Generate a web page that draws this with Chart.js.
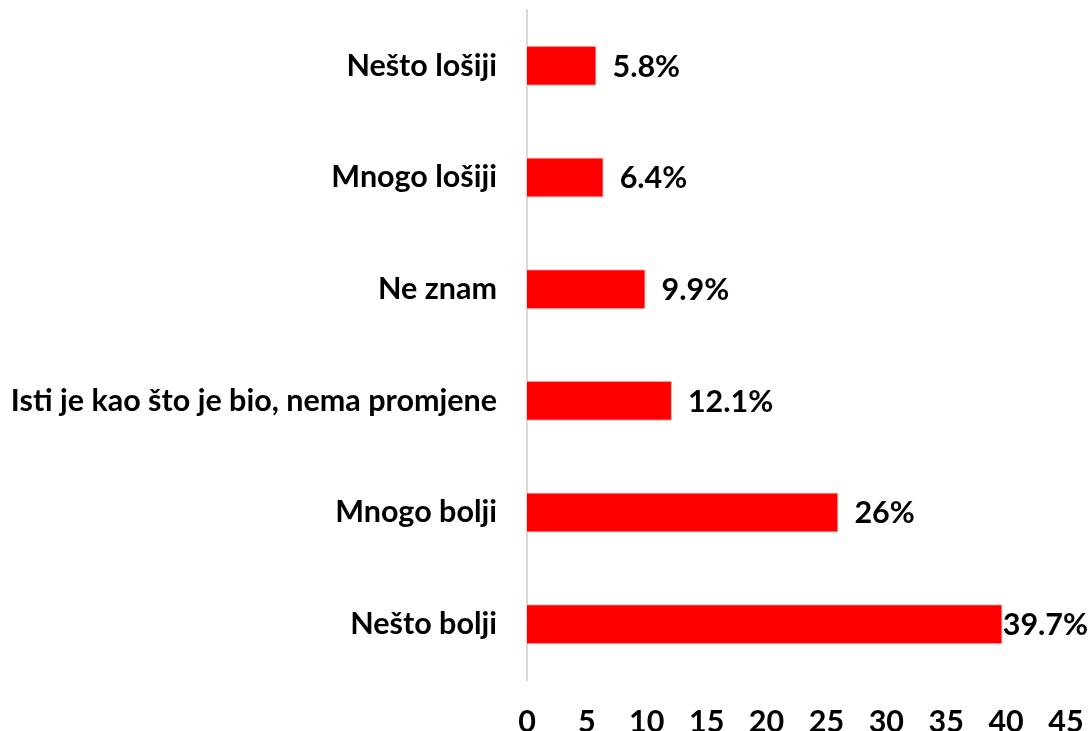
<!DOCTYPE html>
<html>
<head>
<meta charset="utf-8">
<script src="https://cdn.jsdelivr.net/npm/chart.js@4"></script>
<style>
  body { margin: 0; background: #fff; }
</style>
</head>
<body>
<canvas id="myBarChart" width="1089" height="731"></canvas>
<script>
const categories = ['Nešto lošiji', 'Mnogo lošiji', 'Ne znam', 'Isti je kao što je bio, nema promjene', 'Mnogo bolji', 'Nešto bolji'];
const values = [5.8, 6.4, 9.9, 12.1, 26, 39.7];
const valueLabels = ['5.8%', '6.4%', '9.9%', '12.1%', '26%', '39.7%'];
const xTicks = [0, 5, 10, 15, 20, 25, 30, 35, 40, 45];

const fontFamily = 'Lato, "Open Sans", sans-serif';
const fontSize = 30.5;

// simple inline value labels (no datalabels plugin available)
const valueLabelPlugin = {
    id: 'valueLabels',
    afterDatasetsDraw(chart) {
        const ctx = chart.ctx;
        const meta = chart.getDatasetMeta(0);
        ctx.save();
        ctx.font = 'bold ' + fontSize + 'px ' + fontFamily;
        ctx.fillStyle = '#000';
        ctx.textAlign = 'left';
        ctx.textBaseline = 'middle';
        meta.data.forEach(function(bar, i) {
            const text = valueLabels[i];
            // keep the label inside the canvas, like the original does
            const x = Math.min(bar.x + 16, chart.width - ctx.measureText(text).width - 1);
            ctx.fillText(text, x, bar.y + 1);
        });
        ctx.restore();
    }
};

const ctx = document.getElementById('myBarChart');

new Chart(ctx, {
    type: 'bar',
    data: {
        labels: categories,
        datasets: [{
            data: values,
            backgroundColor: '#ff0000',
            borderColor: 'rgba(255,160,160,0.8)',
            borderWidth: 1,
            barPercentage: 0.6,
            categoryPercentage: 0.597
        }]
    },
    options: {
        indexAxis: 'y',
        responsive: false,
        animation: false,
        layout: {
            padding: { top: 10, right: 23, left: 0, bottom: 0 }
        },
        plugins: {
            legend: { display: false },
            tooltip: { enabled: false }
        },
        scales: {
            x: {
                min: 0,
                max: 45,
                afterBuildTicks: function(axis) {
                    axis.ticks = xTicks.map(function(v) { return { value: v }; });
                },
                afterFit: function(scale) {
                    scale.height = 51;
                    scale.paddingLeft = 0;
                    scale.paddingRight = 0;
                },
                grid: { display: false, drawTicks: false },
                border: { display: false },
                ticks: {
                    color: '#000',
                    padding: 24,
                    font: { family: fontFamily, size: fontSize, weight: 'bold' }
                }
            },
            y: {
                afterFit: function(scale) {
                    scale.width = 527;
                    scale.paddingTop = 0;
                    scale.paddingBottom = 0;
                },
                grid: { display: false, drawTicks: false },
                border: { display: true, color: '#d9d9d9', width: 2 },
                ticks: {
                    color: '#000',
                    padding: 30,
                    font: { family: fontFamily, size: fontSize, weight: 'bold' }
                }
            }
        }
    },
    plugins: [valueLabelPlugin]
});
</script>
</body>
</html>
